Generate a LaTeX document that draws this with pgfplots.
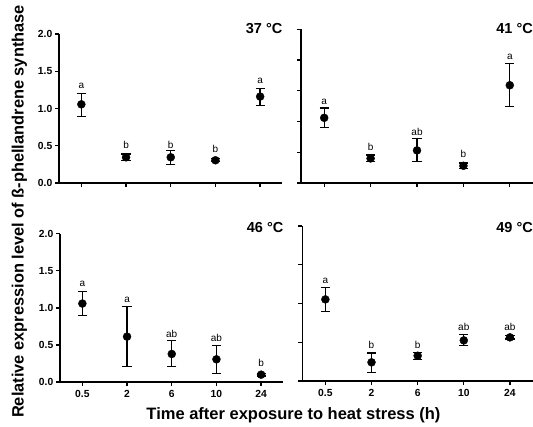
\documentclass[border=0pt]{standalone}
\usepackage{fontspec}
\setmainfont{Liberation Sans}
\usepackage{pgfplots}
\pgfplotsset{compat=1.18}
\usepackage{pgfplotstable}

\pgfplotstableread{
x y ep em
0 1.056 0.146 0.160
1 0.345 0.045 0.045
2 0.345 0.095 0.095
3 0.305 0.020 0.020
4 1.160 0.110 0.120
}\tA
\pgfplotstableread{
x y ep em
0 1.060 0.160 0.160
1 0.400 0.055 0.055
2 0.530 0.190 0.180
3 0.280 0.045 0.045
4 1.590 0.350 0.350
}\tB
\pgfplotstableread{
x y ep em
0 1.058 0.158 0.162
1 0.612 0.406 0.400
2 0.378 0.180 0.171
3 0.306 0.189 0.189
4 0.099 0.020 0.020
}\tC
\pgfplotstableread{
x y ep em
0 1.053 0.154 0.160
1 0.241 0.120 0.129
2 0.326 0.045 0.045
3 0.524 0.073 0.069
4 0.563 0.020 0.020
}\tD

\pgfplotsset{
  panel/.style={
    scale only axis, anchor=south west,
    xmin=-0.5, xmax=4.5, ymin=0,
    axis lines=left,
    axis line style={-, line width=1.5pt, black},
    tick style={line width=1.3pt, black},
    tick align=outside, major tick length=4pt,
    xtick={0,1,2,3,4},
    clip=false,
    ticklabel style={font=\fontsize{10.3}{12}\selectfont\bfseries},
    yticklabel style={inner sep=2.5pt},
    xticklabel style={inner sep=2.5pt, yshift=-2pt},
  },
  pts/.style={only marks, mark=*, mark size=4pt, black,
    error bars/.cd, y dir=both, y explicit,
    error bar style={line width=1.3pt, black},
    error mark options={rotate=90, mark size=4.6pt, line width=1.3pt, black}},
}
\tikzset{
  lt/.style={font=\fontsize{10}{11}\selectfont, anchor=base, inner sep=0pt},
  ttl/.style={font=\fontsize{14.5}{16}\selectfont\bfseries, anchor=east, inner sep=0pt},
}

\begin{document}
\begin{tikzpicture}
\path[use as bounding box] (0,0) rectangle (533pt,426pt);

% 37 C
\begin{axis}[panel, at={(59pt,243pt)}, width=223.5pt, height=149pt, ymax=2,
  ytick={0,0.5,1,1.5,2}, yticklabels={0.0,0.5,1.0,1.5,2.0}, xticklabels={}]
\addplot[pts] table[x=x, y=y, y error plus=ep, y error minus=em]{\tA};
\node[lt] at (axis cs:0,1.27) {a};
\node[lt] at (axis cs:1,0.464) {b};
\node[lt] at (axis cs:2,0.464) {b};
\node[lt] at (axis cs:3,0.416) {b};
\node[lt] at (axis cs:4,1.336) {a};
\node[ttl, yshift=5pt] at (rel axis cs:1,1) {37 °C};
\end{axis}

% 41 C
\begin{axis}[panel, at={(301pt,243pt)}, width=232pt, height=153.7pt, ymax=2.5,
  ytick={0,0.5,1,1.5,2,2.5}, yticklabels={}, xticklabels={}]
\addplot[pts] table[x=x, y=y, y error plus=ep, y error minus=em]{\tB};
\node[lt] at (axis cs:0,1.272) {a};
\node[lt] at (axis cs:1,0.531) {b};
\node[lt] at (axis cs:2,0.78) {ab};
\node[lt] at (axis cs:3,0.407) {b};
\node[lt] at (axis cs:4,2.01) {a};
\node[ttl, yshift=0.8pt] at (rel axis cs:1,1) {41 °C};
\end{axis}

% 46 C
\begin{axis}[panel, at={(60pt,44pt)}, width=223.5pt, height=148.3pt, ymax=2,
  ytick={0,0.5,1,1.5,2}, yticklabels={0.0,0.5,1.0,1.5,2.0},
  xticklabels={0.5,2,6,10,24}]
\addplot[pts] table[x=x, y=y, y error plus=ep, y error minus=em]{\tC};
\node[lt] at (axis cs:0,1.285) {a};
\node[lt] at (axis cs:1,1.078) {a};
\node[lt] at (axis cs:2,0.599) {ab};
\node[lt] at (axis cs:3,0.549) {ab};
\node[lt] at (axis cs:4,0.207) {b};
\node[ttl, yshift=5.7pt] at (rel axis cs:1,1) {46 °C};
\end{axis}

% 49 C
\begin{axis}[panel, at={(302.3pt,45pt)}, width=230.7pt, height=155pt, ymax=2,
  ytick={0,0.5,1,1.5,2}, yticklabels={},
  xticklabels={0.5,2,6,10,24}]
\addplot[pts] table[x=x, y=y, y error plus=ep, y error minus=em]{\tD};
\node[lt] at (axis cs:0,1.264) {a};
\node[lt] at (axis cs:1,0.416) {b};
\node[lt] at (axis cs:2,0.416) {b};
\node[lt] at (axis cs:3,0.652) {ab};
\node[lt] at (axis cs:4,0.652) {ab};
\node[ttl, yshift=-2pt] at (rel axis cs:1,1) {49 °C};
\end{axis}

\node[rotate=90, font=\fontsize{16.4}{18}\selectfont\bfseries] at (19.5pt,214.5pt)
  {Relative expression level of ß-phellandrene synthase};
\node[font=\fontsize{16.5}{18}\selectfont\bfseries] at (293.5pt,11pt)
  {Time after exposure to heat stress (h)};
\end{tikzpicture}
\end{document}
